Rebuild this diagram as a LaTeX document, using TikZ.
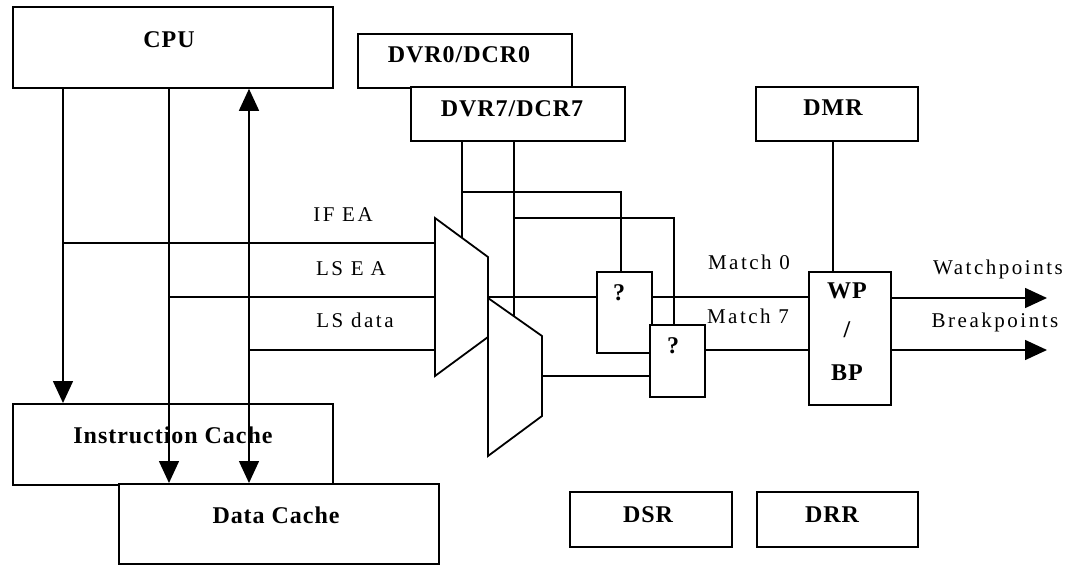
\documentclass[tikz,border=0pt]{standalone}
\usepackage{fontspec}
\setmainfont{Liberation Serif}
\newfontfamily\rlab[LetterSpace=12]{Liberation Serif}
\newfontfamily\blab[LetterSpace=4]{Liberation Serif}
\usetikzlibrary{arrows.meta,calc}
\begin{document}
\begin{tikzpicture}[x=1pt,y=-1pt,
  box/.style={draw,line width=1.8pt,fill=white,inner sep=0pt,anchor=north west},
  wire/.style={line width=1.5pt},
  arr/.style={-{Triangle[length=22pt,width=20pt]}},
  darr/.style={{Triangle[length=22pt,width=20pt]}-{Triangle[length=22pt,width=20pt]}},
  btxt/.style={font=\blab\bfseries\fontsize{24}{24}\selectfont,anchor=base,inner sep=0pt},
  rtxt/.style={font=\rlab\fontsize{21}{21}\selectfont,anchor=base,inner sep=0pt},
  muxst/.style={draw,line width=1.8pt,fill=white,line join=miter}]
\useasboundingbox (0,0) rectangle (1071,565);
% boxes
\node[box,minimum width=320pt,minimum height=81pt] (cpu) at (12,6) {};
\node[box,minimum width=214pt,minimum height=54pt] (dvr0) at (357,33) {};
\node[box,minimum width=214pt,minimum height=54pt] (dvr7) at (410,86) {};
\node[box,minimum width=162pt,minimum height=54pt] (dmr) at (755,86) {};
\node[box,minimum width=320pt,minimum height=81pt] (ic) at (12,403) {};
\node[box,minimum width=320pt,minimum height=80pt] (dc) at (118,483) {};
\node[box,minimum width=55pt,minimum height=81pt] (q1) at (596,271) {};
\node[box,minimum width=55pt,minimum height=72pt] (q2) at (649,324) {};
\node[box,minimum width=82pt,minimum height=133pt] (wpbp) at (808,271) {};
\node[box,minimum width=162pt,minimum height=55pt] (dsr) at (569,491) {};
\node[box,minimum width=161pt,minimum height=55pt] (drr) at (756,491) {};
% muxes
\draw[muxst] (435,218) coordinate (m1a) -- (488,257) coordinate (m1b) -- (488,337) coordinate (m1c) -- (435,376) coordinate (m1d) -- cycle;
\draw[muxst] (488,298) coordinate (m2a) -- (542,336) coordinate (m2b) -- (542,416) coordinate (m2c) -- (488,456) coordinate (m2d) -- cycle;
\coordinate (m1out) at (488,297);
\coordinate (m2out) at (542,376);
\coordinate (m1in) at (462,238);
\coordinate (m2in) at (514,317);
% labels
\node[btxt] (cpuL) at (169,47) {CPU};
\node[btxt] (dvr0L) at (459,62) {DVR0/DCR0};
\node[btxt] (dvr7L) at (512,116) {DVR7/DCR7};
\node[btxt] (dmrL) at (833,115) {DMR};
\node[btxt] (icL) at (173,443) {Instruction Cache};
\node[btxt] (dcL) at (276,523) {Data Cache};
\node[btxt] (dsrL) at (648,522) {DSR};
\node[btxt] (drrL) at (832,522) {DRR};
\node[btxt] (wpL) at (847,298) {WP};
\node[btxt] (slL) at (847,337) {/};
\node[btxt] (bpL) at (847,380) {BP};
\node[btxt] (q1L) at (619,300) {?};
\node[btxt] (q2L) at (673,353) {?};
\node[rtxt] (ifea) at (343,221) {IF EA};
\node[rtxt] (lsea) at (351,275) {LS E\,\,A};
\node[rtxt] (lsdata) at (355,327) {LS data};
\node[rtxt] (m0L) at (749,269) {Match 0};
\node[rtxt] (m7L) at (748,323) {Match 7};
\node[rtxt] (wptL) at (998,274) {Watchpoints};
\node[rtxt] (bptL) at (995,327) {Breakpoints};
% CPU buses
\draw[wire,arr] (63,0 |- cpu.south) -- (63,0 |- ic.north);
\draw[wire,arr] (169,0 |- cpu.south) -- (169,0 |- dc.north);
\draw[wire,darr] (249,0 |- dc.north) -- (249,0 |- cpu.south);
\draw[wire] (63,243) -- (m1a |- 0,243);
\draw[wire] (169,297) -- (m1a |- 0,297);
\draw[wire] (249,350) -- (m1a |- 0,350);
% DVR lines
\draw[wire] (m1in |- dvr7.south) -- (m1in);
\draw[wire] (m2in |- dvr7.south) -- (m2in);
\draw[wire] (462,192) -- (621,192) -- (621,0 |- q1.north);
\draw[wire] (514,218) -- (674,218) -- (674,0 |- q2.north);
% comparators
\draw[wire] (m1out) -- (q1.west |- m1out);
\draw[wire] (m2out) -- (q2.west |- m2out);
\draw[wire] (q1.east |- m1out) -- (wpbp.west |- m1out);
\draw[wire] (q2.east |- 0,350) -- (wpbp.west |- 0,350);
\draw[wire] (833,0 |- dmr.south) -- (833,0 |- wpbp.north);
% outputs
\draw[wire,arr] (wpbp.east |- 0,298) -- (1047,298);
\draw[wire,arr] (wpbp.east |- 0,350) -- (1047,350);
\end{tikzpicture}
\end{document}
